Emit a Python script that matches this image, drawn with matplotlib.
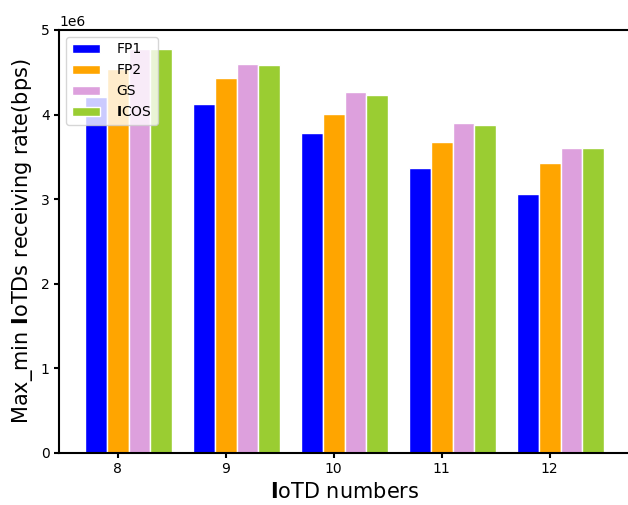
import matplotlib
matplotlib.use("Agg")
import matplotlib.pyplot as plt
import numpy as np

groups = [8, 9, 10, 11, 12]
series = ["FP1", "FP2", "GS", "ICOS"]
legend_labels = ["FP1", "FP2", "GS", r"$\mathbf{I}$COS"]
fp1 = [4.21e6, 4.13e6, 3.78e6, 3.37e6, 3.065e6]
fp2 = [4.54e6, 4.43e6, 4.01e6, 3.67e6, 3.43e6]
gs = [4.78e6, 4.595e6, 4.265e6, 3.90e6, 3.605e6]
icos = [4.77e6, 4.59e6, 4.235e6, 3.88e6, 3.60e6]
colors = ["blue", "orange", "plum", "yellowgreen"]

fig = plt.figure(figsize=(6.28, 5.05), dpi=100)
ax = fig.add_axes([0.0946, 0.1036, 0.908, 0.837])

x = np.array(groups, dtype=float)
w = 0.2
for i, (vals, c, lab) in enumerate(zip([fp1, fp2, gs, icos], colors, legend_labels)):
    ax.bar(x + (i - 1) * w, vals, width=w, color=c, edgecolor="white", linewidth=1, label=lab)

ax.set_ylim(0, 5e6)
ax.set_xticks(groups)
ax.set_xticklabels([str(g) for g in groups])
ax.set_xlabel(r"$\mathbf{I}$oTD numbers", fontsize=15)
ax.set_ylabel(r"Max_min $\mathbf{I}$oTDs receiving rate(bps)", fontsize=15)
for s in ax.spines.values():
    s.set_linewidth(1.5)
ax.spines["right"].set_visible(False)
ax.tick_params(width=1.5, labelsize=10)
ax.legend(loc="upper left", fontsize=10, handletextpad=1.2)

fig.savefig("out.png", dpi=100)
